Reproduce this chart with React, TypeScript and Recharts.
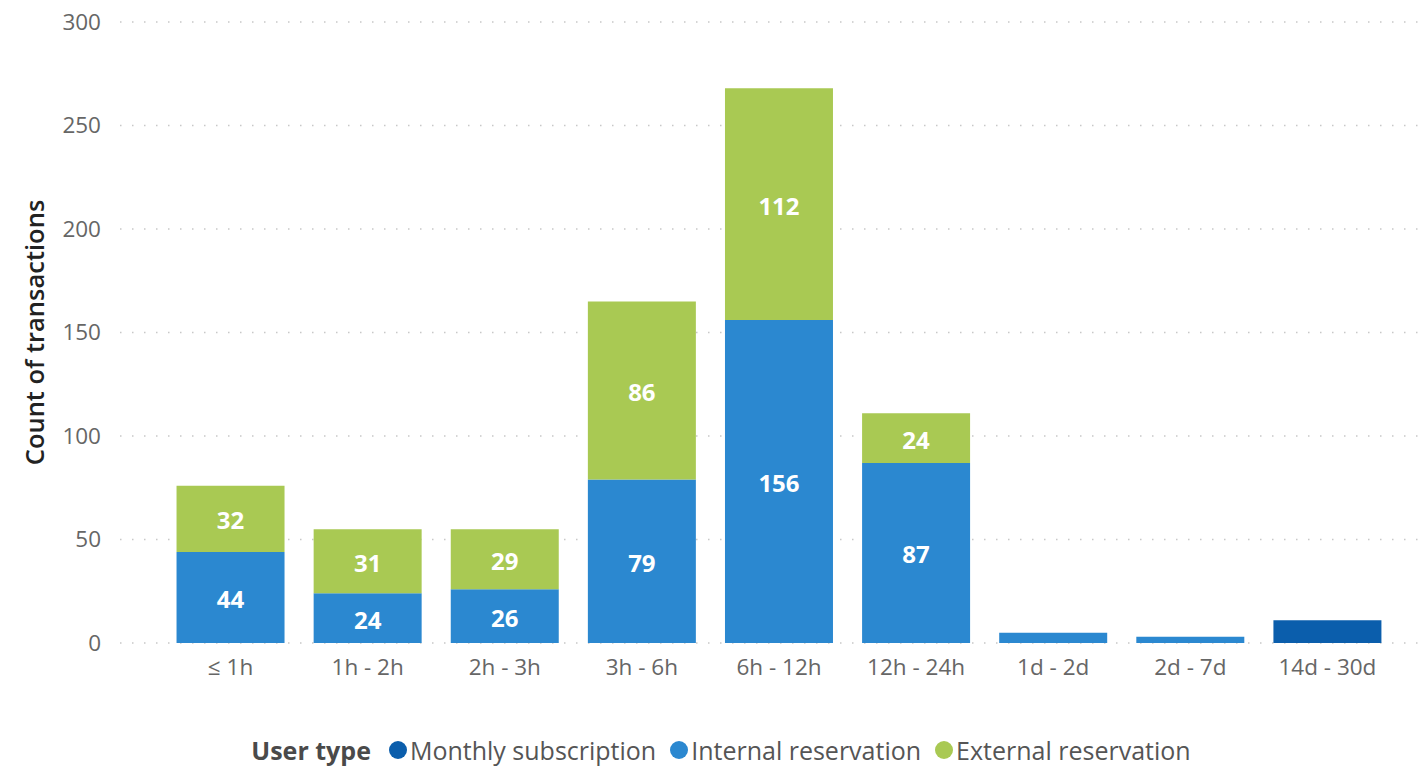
import { BarChart, Bar, XAxis, YAxis, CartesianGrid, LabelList, Legend } from "recharts";

const categories = ["≤ 1h", "1h - 2h", "2h - 3h", "3h - 6h", "6h - 12h", "12h - 24h", "1d - 2d", "2d - 7d", "14d - 30d"];
const monthly = [0, 0, 0, 0, 0, 0, 0, 0, 11];
const internal = [44, 24, 26, 79, 156, 87, 5, 3, 0];
const external = [32, 31, 29, 86, 112, 24, 0, 0, 0];
const yTicks = [0, 50, 100, 150, 200, 250, 300];

const SERIES = [
    { key: "monthly", name: "Monthly subscription", color: "#0B5EAC" },
    { key: "internal", name: "Internal reservation", color: "#2B88D0" },
    { key: "external", name: "External reservation", color: "#A9C953" },
];

const data = categories.map((c, i) => ({
    cat: c,
    monthly: monthly[i],
    internal: internal[i],
    external: external[i],
}));

const FONT = "'Open Sans', 'Noto Sans', sans-serif";

// white value label in the middle of a segment, hidden for thin ones
const SegLabel = (props: any) => {
    const { x, y, width, height, value } = props;
    if (!value || value < 15) return null;
    return (
        <text
            x={x + width / 2}
            y={y + height / 2 + 1}
            textAnchor="middle"
            dominantBaseline="central"
            fill="#fff"
            fontSize={24}
            fontWeight={700}
            fontFamily={FONT}
        >
            {value}
        </text>
    );
};

const LegendBox = () => (
    <div
        style={{
            display: "flex",
            justifyContent: "center",
            alignItems: "center",
            fontFamily: FONT,
            fontSize: 25,
            color: "#555",
            gap: 10,
            marginLeft: 26,
        }}
    >
        <span style={{ fontWeight: 700, marginRight: 8, color: "#4a4a4a" }}>User type</span>
        {SERIES.map((s) => (
            <span key={s.key} style={{ display: "flex", alignItems: "center", marginRight: 4 }}>
                <span
                    style={{
                        width: 18,
                        height: 18,
                        borderRadius: 9,
                        background: s.color,
                        display: "inline-block",
                        marginRight: 3,
                    }}
                />
                {s.name}
            </span>
        ))}
    </div>
);

export default function App() {
    return (
        <div style={{ position: "absolute", left: 0, top: 0, width: 1427, height: 767, background: "#fff" }}>
            <BarChart
                width={1427}
                height={767}
                data={data}
                margin={{ top: 22, right: 7, bottom: 0, left: 0 }}
                barCategoryGap="10.6%"
            >
                <CartesianGrid vertical={false} stroke="#c8c8c8" strokeDasharray="1.5 10.5" strokeWidth={1.5} />
                <XAxis
                    dataKey="cat"
                    axisLine={false}
                    tickLine={false}
                    padding={{ left: 42, right: 24 }}
                    tick={{ fill: "#666", fontSize: 22.5, fontFamily: FONT }}
                    tickMargin={10}
                    height={42}
                    interval={0}
                />
                <YAxis
                    domain={[0, 300]}
                    ticks={yTicks}
                    axisLine={false}
                    tickLine={false}
                    tickSize={0}
                    tickMargin={19}
                    width={120}
                    tick={{ fill: "#666", fontSize: 22.5, fontFamily: FONT }}
                    label={{
                        value: "Count of transactions",
                        angle: -90,
                        position: "insideLeft",
                        offset: 35,
                        style: { textAnchor: "middle", fill: "#222", fontSize: 25.5, fontWeight: 600, fontFamily: FONT },
                    }}
                />
                <Legend verticalAlign="bottom" height={82} content={() => <div style={{ paddingTop: 48 }}><LegendBox /></div>} />
                {SERIES.map((s) => (
                    <Bar key={s.key} dataKey={s.key} name={s.name} stackId="a" fill={s.color} isAnimationActive={false}>
                        <LabelList dataKey={s.key} content={SegLabel} />
                    </Bar>
                ))}
            </BarChart>
        </div>
    );
}
